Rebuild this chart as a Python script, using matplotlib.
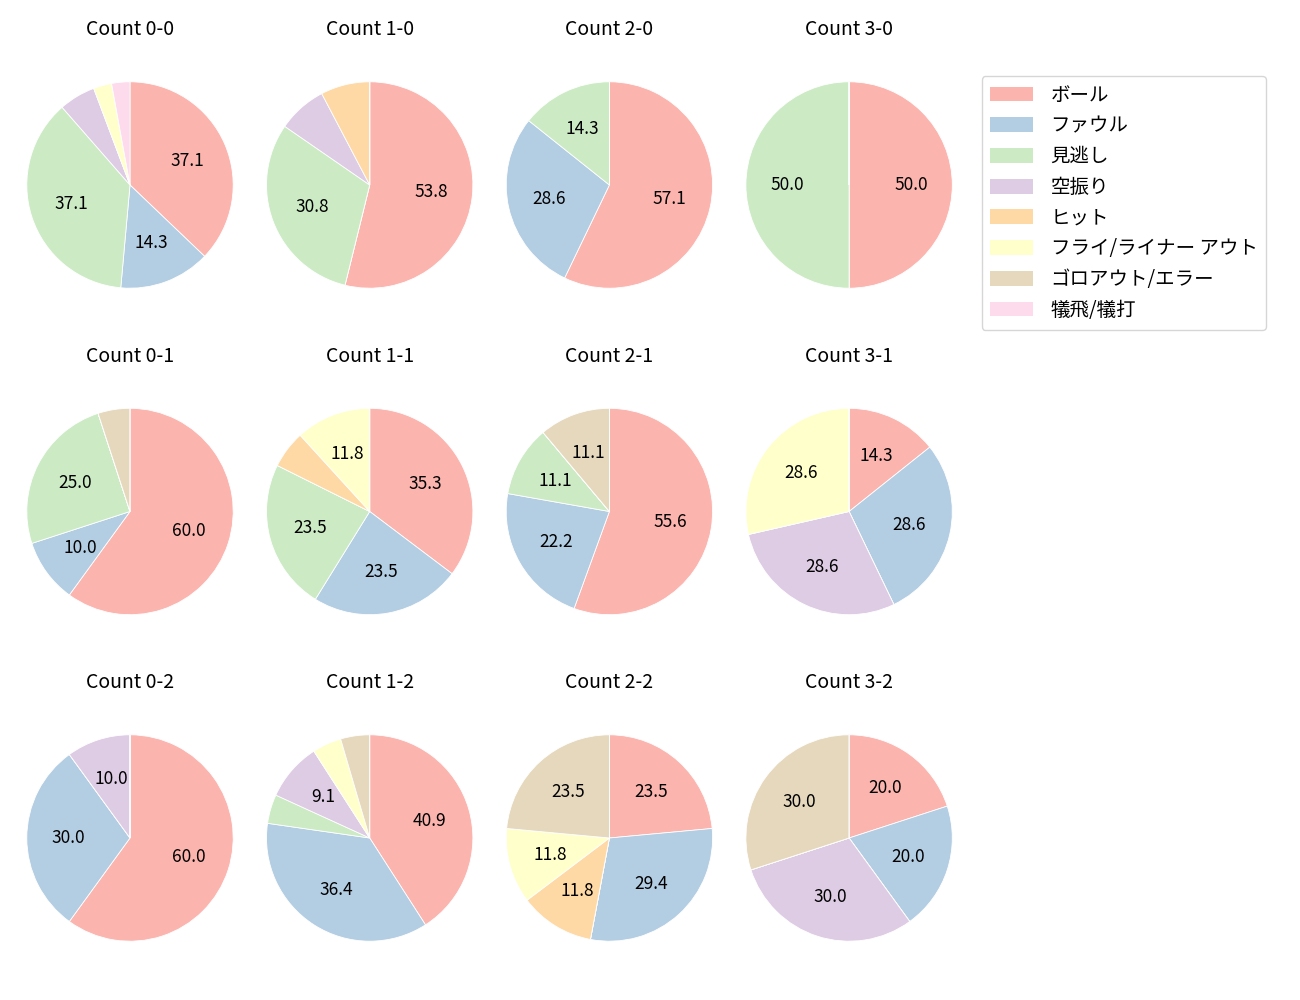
import matplotlib
matplotlib.use("Agg")
import matplotlib.pyplot as plt
from matplotlib.patches import Patch

plt.rcParams['font.family'] = ['Noto Sans CJK JP', 'DejaVu Sans']

categories = ['ボール', 'ファウル', '見逃し', '空振り', 'ヒット',
              'フライ/ライナー アウト', 'ゴロアウト/エラー', '犠飛/犠打']

# counts per category, order as in categories
counts = {
    '0-0': [13, 5, 13, 2, 0, 1, 0, 1],
    '1-0': [7, 0, 4, 1, 1, 0, 0, 0],
    '2-0': [4, 2, 1, 0, 0, 0, 0, 0],
    '3-0': [1, 0, 1, 0, 0, 0, 0, 0],
    '0-1': [12, 2, 5, 0, 0, 0, 1, 0],
    '1-1': [6, 4, 4, 0, 1, 2, 0, 0],
    '2-1': [5, 2, 1, 0, 0, 0, 1, 0],
    '3-1': [1, 2, 0, 2, 0, 2, 0, 0],
    '0-2': [6, 3, 0, 1, 0, 0, 0, 0],
    '1-2': [9, 8, 1, 2, 0, 1, 1, 0],
    '2-2': [4, 5, 0, 0, 2, 2, 4, 0],
    '3-2': [2, 2, 0, 3, 0, 0, 3, 0],
}
balls = ['0', '1', '2', '3']
strikes = ['0', '1', '2']

colors = plt.cm.Pastel1.colors[:8]

fig = plt.figure(figsize=(13, 10), dpi=100)
W, H = 1300, 1000
size = 258

for r, s in enumerate(strikes):
    for c, b in enumerate(balls):
        cx = 130 + 239.7 * c
        cy = 185 + 326.5 * r
        ax = fig.add_axes([(cx - size / 2) / W, 1 - (cy + size / 2) / H, size / W, size / H])
        vals = counts[b + '-' + s]
        ax.pie(vals, colors=colors, startangle=90, counterclock=False,
               autopct=lambda p: f'{p:.1f}' if p >= 8 else '',
               pctdistance=0.6, textprops={'fontsize': 12.5},
               wedgeprops={'edgecolor': 'white', 'linewidth': 0.6})
        ax.set_xlim(-1.25, 1.25)
        ax.set_ylim(-1.25, 1.25)
        ax.set_title('Count ' + b + '-' + s, fontsize=14, pad=15)

handles = [Patch(facecolor=colors[i]) for i in range(8)]
fig.legend(handles, categories, loc='upper left', bbox_to_anchor=(0.755, 0.924),
           fontsize=14, handlelength=2.2, handleheight=0.8, labelspacing=0.5,
           borderpad=0.45, handletextpad=0.9, borderaxespad=0)

fig.savefig('out.png', dpi=100)
